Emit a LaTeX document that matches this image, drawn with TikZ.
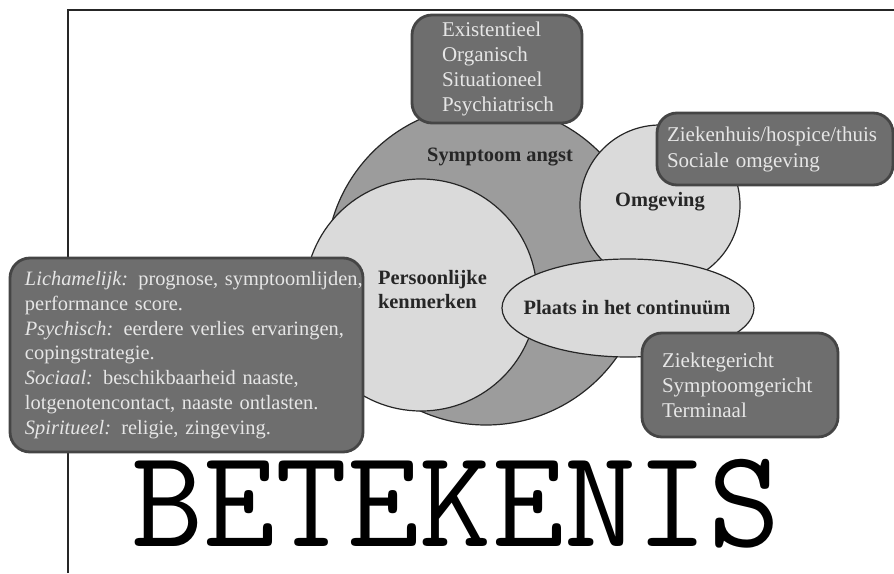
\documentclass[tikz,border=0pt]{standalone}
\usepackage{fontspec}
\setmainfont{Liberation Serif}
\usepackage{tikz}
\usetikzlibrary{shapes.geometric}
\definecolor{angstgray}{HTML}{9C9C9C}
\definecolor{kenmerklight}{HTML}{DADADA}
\definecolor{boxgray}{HTML}{6E6E6E}
\definecolor{boxedge}{HTML}{454545}
\definecolor{boxtext}{HTML}{E6E6E6}
\definecolor{lineink}{HTML}{262626}

\begin{document}
\begin{tikzpicture}[
  x=0.5pt, y=-0.5pt,
  font=\fontsize{10.5}{12.5}\selectfont,
  every node/.style={align=center},
  zone/.style={draw=lineink, line width=0.6pt, inner sep=0pt},
  zonelabel/.style={font=\bfseries\fontsize{10.2}{12}\selectfont, text=black!85},
  infobox/.style={
    draw=boxedge,
    line width=1.4pt,
    fill=boxgray,
    rounded corners=10pt,
    text=boxtext,
    align=left,
    inner ysep=3pt
  }
]
\useasboundingbox (0,0) rectangle (894,573);

\draw[lineink, line width=0.8pt] (68,573) -- (68,10) -- (894,10);

\node[zone, circle, fill=angstgray, minimum size=160pt] (angst) at (486,265) {};
\node[zone, circle, fill=kenmerklight, minimum size=116pt] (kenmerk) at (421,295) {};
\node[zone, circle, fill=kenmerklight, minimum size=80pt] (omgeving) at (660,205) {};
\node[zone, ellipse, fill=kenmerklight, minimum width=126pt, minimum height=49pt] (plaats) at (628,308) {};

\node[zonelabel] (angstlbl) at (500,157) {Symptoom angst};
\node[zonelabel, align=left, anchor=west] (kenmerklbl) at (371,290) {Persoonlijke\\kenmerken};
\node[zonelabel] (omgevinglbl) at (660,202) {Omgeving};
\node[zonelabel] (plaatslbl) at (627,308) {Plaats in het continuüm};

\node[infobox, text width=55pt, inner xsep=15pt, minimum height=54pt] (oorzaak) at (497,69)
  {Existentieel\\Organisch\\Situationeel\\Psychiatrisch};

\node[infobox, text width=108pt, inner xsep=5pt, minimum height=36pt,
  font=\fontsize{10.5}{13}\selectfont] (plek) at (775,149)
  {Ziekenhuis/hospice/thuis\\Sociale omgeving};

\node[infobox, text width=78pt, inner xsep=10pt, minimum height=52pt] (fase) at (740,385)
  {Ziektegericht\\Symptoomgericht\\Terminaal};

\node[infobox, text width=161.5pt, inner xsep=7.5pt, minimum height=97pt,
  font=\fontsize{10.2}{12.4}\selectfont] (dimensies) at (186.5,355)
  {\mbox{\textit{Lichamelijk:} prognose, symptoomlijden,}\\
   performance score.\\
   \textit{Psychisch:} eerdere verlies ervaringen,\\
   copingstrategie.\\
   \textit{Sociaal:} beschikbaarheid naaste,\\
   \mbox{lotgenotencontact, naaste ontlasten.}\\
   \textit{Spiritueel:} religie, zingeving.};

\node[font=\ttfamily\addfontfeatures{FakeBold=1.2}\fontsize{70}{70}\selectfont,
  anchor=base, inner sep=0pt] (betekenis) at (456,546) {BETEKENIS};

\end{tikzpicture}
\end{document}
